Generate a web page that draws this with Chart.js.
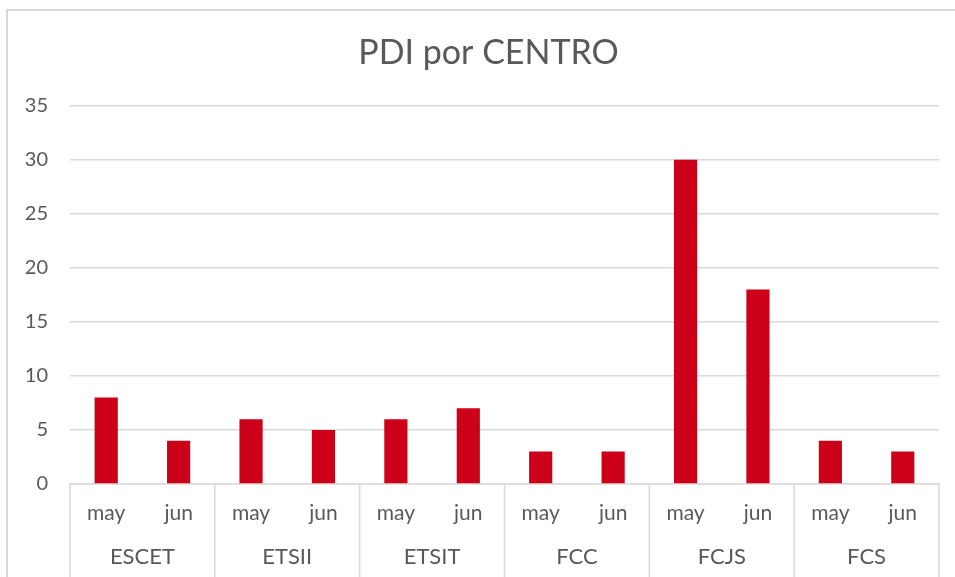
<!DOCTYPE html>
<html>
<head>
<meta charset="utf-8">
<script src="https://cdn.jsdelivr.net/npm/chart.js@4"></script>
<style>
  body { margin: 0; background: #fff; }
  #frame { position: absolute; left: 6px; top: 9px; width: 1000px; height: 1000px;
           border-left: 2px solid #d9d9d9; border-top: 2px solid #d9d9d9; }
  #wrap { position: absolute; left: 0; top: 0; width: 955px; height: 577px; overflow: hidden; }
</style>
</head>
<body>
<div id="wrap">
  <div id="frame"></div>
  <canvas id="chart" width="955" height="577" style="position:absolute;left:0;top:0;"></canvas>
</div>
<script>
// data
const centros = ['ESCET', 'ETSII', 'ETSIT', 'FCC', 'FCJS', 'FCS'];
const meses = ['may', 'jun'];
const pdi = [8, 4, 6, 5, 6, 7, 3, 3, 30, 18, 4, 3];
const yTicks = [0, 5, 10, 15, 20, 25, 30, 35];

const textColor = '#595959';
const lineColor = '#d9d9d9';
const fontFamily = 'Lato, "Open Sans", sans-serif';

const labels = [];
centros.forEach(() => meses.forEach(m => labels.push(m)));

// group labels + separators under the month ticks
const groupAxis = {
    id: 'groupAxis',
    afterLayout(chart) {
        // title sits a little right of the canvas centre
        if (chart.titleBlock) chart.titleBlock.left = 38;
    },
    afterDraw(chart) {
        const ctx = chart.ctx;
        const x = chart.scales.x;
        const area = chart.chartArea;
        const half = (x.getPixelForValue(1) - x.getPixelForValue(0)) / 2;
        ctx.save();
        ctx.strokeStyle = lineColor;
        ctx.lineWidth = 1.5;
        ctx.fillStyle = textColor;
        ctx.font = '22px ' + fontFamily;
        ctx.textAlign = 'center';
        ctx.textBaseline = 'middle';
        centros.forEach((c, g) => {
            const first = g * meses.length;
            const last = first + meses.length - 1;
            const left = x.getPixelForValue(first) - half;
            const right = x.getPixelForValue(last) + half;
            ctx.beginPath();
            ctx.moveTo(left, area.bottom);
            ctx.lineTo(left, chart.height);
            if (g === centros.length - 1) {
                ctx.moveTo(right, area.bottom);
                ctx.lineTo(right, chart.height);
            }
            ctx.stroke();
            ctx.fillText(c, (left + right) / 2, 557);
        });
        ctx.restore();
    }
};

new Chart(document.getElementById('chart'), {
    type: 'bar',
    data: {
        labels: labels,
        datasets: [{
            data: pdi,
            backgroundColor: '#CC0019',
            barPercentage: 0.32,
            categoryPercentage: 1
        }]
    },
    options: {
        responsive: false,
        animation: false,
        layout: { padding: { left: 8, right: 16, top: 10, bottom: 0 } },
        plugins: {
            legend: { display: false },
            tooltip: { enabled: false },
            title: {
                display: true,
                text: 'PDI por CENTRO',
                color: textColor,
                font: { family: fontFamily, size: 34, weight: 'normal' },
                padding: { top: 23, bottom: 32 }
            }
        },
        scales: {
            x: {
                grid: { display: false, drawTicks: false },
                border: { display: true, color: lineColor, width: 1.5 },
                ticks: {
                    color: textColor,
                    font: { family: fontFamily, size: 21 },
                    padding: 17,
                    maxRotation: 0,
                    autoSkip: false
                },
                afterFit(scale) { scale.height = 93; }
            },
            y: {
                min: 0,
                max: 35,
                afterBuildTicks(scale) { scale.ticks = yTicks.map(v => ({ value: v })); },
                grid: { color: lineColor, lineWidth: 1.5, drawTicks: false },
                border: { display: false },
                ticks: {
                    color: textColor,
                    font: { family: fontFamily, size: 20 },
                    padding: 22
                },
                afterFit(scale) { scale.width = 62; }
            }
        }
    },
    plugins: [groupAxis]
});
</script>
</body>
</html>
